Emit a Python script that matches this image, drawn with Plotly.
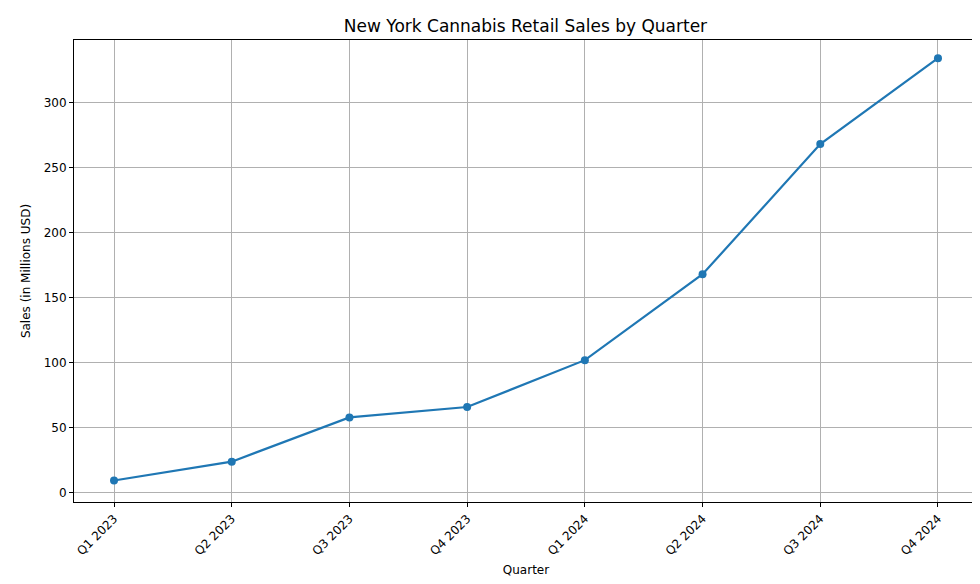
import plotly.graph_objects as go

quarters = ["Q1 2023", "Q2 2023", "Q3 2023", "Q4 2023", "Q1 2024", "Q2 2024", "Q3 2024", "Q4 2024"]
sales = [9.5, 24, 58, 66, 102, 168, 268, 334]

fig = go.Figure(go.Scatter(
    x=list(range(len(quarters))), y=sales, mode="lines+markers",
    line=dict(color="#1f77b4", width=2.2), marker=dict(size=8, color="#1f77b4")))

axis = dict(showline=True, linecolor="black", mirror=True, showgrid=True, gridcolor="#b0b0b0",
            gridwidth=1, ticks="outside", tickcolor="black", ticklen=4, zeroline=False,
            automargin=False, tickfont=dict(size=12, color="black"))
fig.update_layout(
    width=980, height=584, paper_bgcolor="white", plot_bgcolor="white",
    font=dict(family="DejaVu Sans", color="black"),
    title=dict(text="New York Cannabis Retail Sales by Quarter", x=0.528, xanchor="center",
               yref="container", y=1 - 18 / 584, yanchor="middle", font=dict(size=17), automargin=False),
    margin=dict(l=66, r=10, t=32, b=90, autoexpand=False),
    showlegend=False,
    xaxis=dict(axis, tickvals=list(range(len(quarters))), ticktext=quarters, tickangle=-45,
               range=[-0.34, 7.34], title=dict(text="Quarter", font=dict(size=12), standoff=8)),
    yaxis=dict(axis, range=[-7, 348], dtick=50, title=dict(text="Sales (in Millions USD)", font=dict(size=12), standoff=10)),
)
fig.write_html("out.html")
